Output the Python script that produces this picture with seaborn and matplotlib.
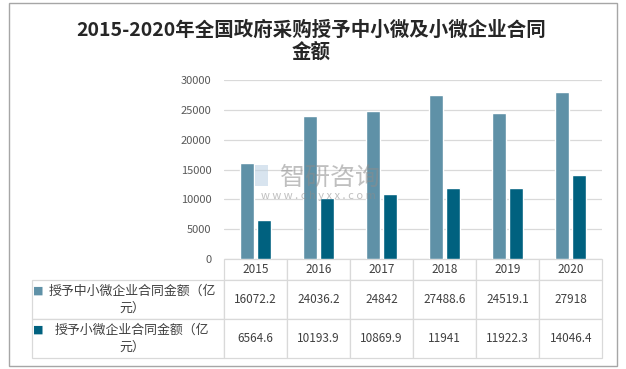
import numpy as np
import pandas as pd
import seaborn as sns
import matplotlib
matplotlib.use("Agg")
import matplotlib.pyplot as plt
from matplotlib.patches import Rectangle

sns.set_style("white")
plt.rcParams['font.family'] = ['Noto Sans CJK SC', 'DejaVu Sans']

# data
years = ['2015', '2016', '2017', '2018', '2019', '2020']
sme_amount = [16072.2, 24036.2, 24842, 27488.6, 24519.1, 27918]
micro_amount = [6564.6, 10193.9, 10869.9, 11941, 11922.3, 14046.4]
series_names = ['授予中小微企业合同金额（亿元）', '授予小微企业合同金额（亿元）']
row_labels = ['授予中小微企业合同金额（亿\n元）', '授予小微企业合同金额（亿\n元）']
colors = ['#5F91A7', '#00617F']
title = '2015-2020年全国政府采购授予中小微及小微企业合同\n金额'

df = pd.DataFrame({
    'year': years * 2,
    'series': [series_names[0]] * len(years) + [series_names[1]] * len(years),
    'value': sme_amount + micro_amount,
})

fig = plt.figure(figsize=(6.26, 3.69), dpi=100)
ax = fig.add_axes([0.358, 0.298, 0.604, 0.485])

sns.barplot(data=df, x='year', y='value', hue='series', palette=colors,
            width=0.54, gap=0.18, ax=ax, legend=False, saturation=1)

ax.set_ylim(0, 30000)
ax.set_yticks(np.arange(0, 30001, 5000))
ax.yaxis.grid(True, color='#d9d9d9', linewidth=0.9)
ax.set_axisbelow(True)
for s in ['top', 'right', 'left', 'bottom']:
    ax.spines[s].set_visible(False)
ax.tick_params(axis='y', length=0, labelsize=8, labelcolor='#595959', pad=9)
ax.tick_params(axis='x', length=0, labelbottom=False)
ax.set_xlabel('')
ax.set_ylabel('')

# data table below the bars
cell_text = [[''] + years,
             [''] + [f'{v:g}' for v in sme_amount],
             [''] + [f'{v:g}' for v in micro_amount]]
x0 = (32 - 224) / 378
tw = (602 - 32) / 378
th = 99 / 179
tbl = ax.table(cellText=cell_text, cellLoc='center', bbox=[x0, -th, tw, th])
tbl.auto_set_font_size(False)
for (r, c), cell in tbl.get_celld().items():
    cell.set_edgecolor('#d9d9d9')
    cell.set_linewidth(0.9)
    cell.set_height(21 if r == 0 else 39)
    cell.set_width(192 if c == 0 else 63)
    txt = cell.get_text()
    txt.set_color('#404040')
    txt.set_fontsize(8.5)
    if r == 0 and c == 0:
        cell.visible_edges = ''

# row labels with legend squares
for i, (lab, col) in enumerate(zip(row_labels, colors)):
    yc = -(21 + 39 * i + 19.5) / 179
    ax.text(-0.243, yc, lab, transform=ax.transAxes, fontsize=9.3,
            color='#404040', ha='center', va='center',
            multialignment='center', linespacing=1.35)
    ax.text(-0.492, yc + 0.052, '■', transform=ax.transAxes,
            color=col, fontsize=8, ha='center', va='center',
            family=['DejaVu Sans'])

# watermark
fig.patches.append(Rectangle((255 / 626, 1 - 186 / 369), 13 / 626, 21 / 369,
                             transform=fig.transFigure, facecolor='#b9cfe2',
                             edgecolor='none', alpha=0.55, zorder=10))
fig.text(0.527, 0.519, '智研咨询', fontsize=18, color='#8c8c8c',
         ha='center', va='center', alpha=0.55, zorder=10)
fig.text(0.508, 0.469, 'w w w . c h y x x . c o m', fontsize=8, color='#8c8c8c',
         ha='center', va='center', alpha=0.55, zorder=10)

# title
fig.text(0.497, 0.888, title, fontsize=14, fontweight='bold', color='#262626',
         ha='center', va='center', linespacing=1.2)

# outer frame
fig.patches.append(Rectangle((9 / 626, 1 - 366 / 369), 608 / 626, 363 / 369,
                             transform=fig.transFigure, fill=False,
                             edgecolor='#a6a6a6', linewidth=1.0))

fig.savefig('out.png', dpi=100)
